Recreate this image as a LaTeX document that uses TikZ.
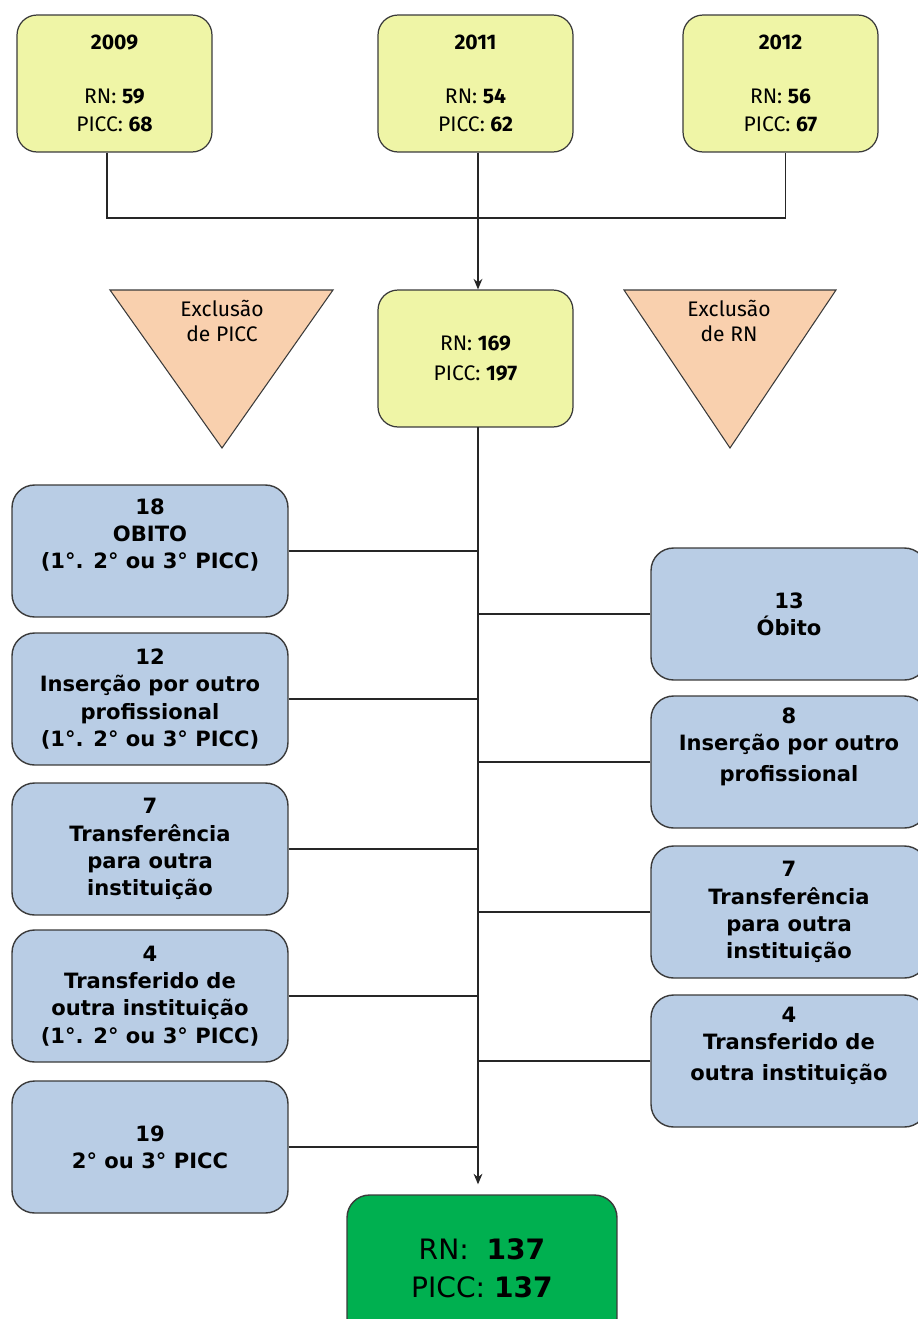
\documentclass[tikz,border=0pt]{standalone}
\usepackage{fontspec}
\setmainfont{DejaVu Sans}
\newfontfamily\firafont{Fira Sans}
\usetikzlibrary{arrows.meta, positioning, calc}
\definecolor{AnoYellow}{HTML}{EFF5A6}
\definecolor{ExclPeach}{HTML}{F9D0AE}
\definecolor{CaixaBlue}{HTML}{B9CDE5}
\definecolor{FimGreen}{HTML}{00B050}
\definecolor{Borda}{HTML}{3A3A3A}

\begin{document}
\begin{tikzpicture}[x=0.02cm, y=-0.02cm,
    ano/.style={draw=Borda, fill=AnoYellow, rounded corners=0.4cm, minimum width=3.9cm, minimum height=2.74cm, align=center, font=\firafont\fontsize{12}{16}\selectfont, line width=0.7pt},
    caixa/.style={draw=Borda, fill=CaixaBlue, rounded corners=0.45cm, minimum width=5.52cm, minimum height=2.64cm, align=center, font=\bfseries\fontsize{12}{15.5}\selectfont, line width=0.8pt},
    tres/.style={text depth=20pt},
    fim/.style={draw=Borda, fill=FimGreen, rounded corners=0.45cm, minimum width=5.4cm, minimum height=2.92cm, align=center, font=\fontsize{16}{21.5}\selectfont, line width=0.8pt},
    tri/.style={draw=Borda, fill=ExclPeach, line width=0.6pt},
    trilab/.style={align=center, font=\firafont\fontsize{12}{14.5}\selectfont, inner sep=0pt},
    fio/.style={line width=0.8pt, black!85},
    arr/.style={fio, -{Stealth[length=6pt, width=5pt]}}
  ]
  \useasboundingbox (0,0) rectangle (918,1319);
  % anos
  \node[ano] (a2009) at (114.5,83.5) {\textbf{2009}\\[15pt]RN: \textbf{59}\\PICC: \textbf{68}};
  \node[ano] (a2011) at (475.5,83.5) {\textbf{2011}\\[15pt]RN: \textbf{54}\\PICC: \textbf{62}};
  \node[ano] (a2012) at (780.5,83.5) {\textbf{2012}\\[15pt]RN: \textbf{56}\\PICC: \textbf{67}};
  \node[ano] (total) at (475.5,358.5) {RN: \textbf{169}\\[1pt]PICC: \textbf{197}};
  % triangulos de exclusao
  \filldraw[tri] (110,290) -- (333,290) -- (222,448) -- cycle;
  \node[trilab] (exPicc) at (222,321) {Exclusão\\de PICC};
  \filldraw[tri] (624,290) -- (836,290) -- (730,448) -- cycle;
  \node[trilab] (exRn) at (729,321) {Exclusão\\de RN};
  % exclusoes de PICC
  \node[caixa, tres] (e1) at (150,551) {18\\OBITO\\(1°. 2° ou 3° PICC)};
  \node[caixa] (e2) at (150,699) {12\\Inserção por outro\\profissional\\(1°. 2° ou 3° PICC)};
  \node[caixa] (e3) at (150,849) {7\\Transferência\\para outra\\instituição};
  \node[caixa] (e4) at (150,996) {4\\Transferido de\\outra instituição\\(1°. 2° ou 3° PICC)};
  \node[caixa] (e5) at (150,1147) {19\\2° ou 3° PICC};
  % exclusoes de RN
  \node[caixa] (d1) at (789,614) {13\\Óbito};
  \node[caixa, tres] (d2) at (789,762) {8\\Inserção por outro\\[2pt]profissional};
  \node[caixa] (d3) at (789,912) {7\\Transferência\\para outra\\instituição};
  \node[caixa, tres] (d4) at (789,1061) {4\\Transferido de\\[2pt]outra instituição};
  \node[fim] (fim) at (482,1268) {RN:~~\textbf{137}\\PICC:~\textbf{137}};
  % ligacoes
  \coordinate (junta) at (478,218);
  \coordinate (eixo) at (478,427);
  \draw[fio] ([xshift=-0.15cm]a2009.south) |- (junta) -| ([xshift=0.1cm]a2012.south);
  \draw[arr] (a2011.south -| junta) -- (total.north -| junta);
  \draw[arr, shorten >=0.2cm] (eixo) -- (eixo |- fim.north);
  \foreach \i in {1,...,5}
    \draw[fio] (e\i.east) -- (e\i.east -| eixo);
  \foreach \i in {1,...,4}
    \draw[fio] (d\i.west) -- (d\i.west -| eixo);
\end{tikzpicture}
\end{document}
